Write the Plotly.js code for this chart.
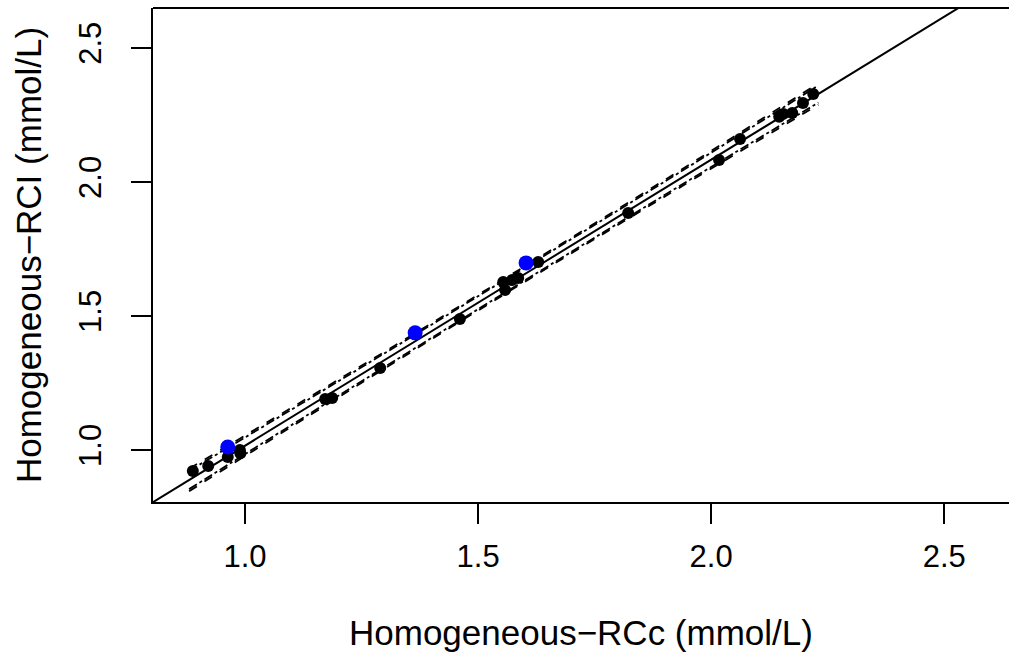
<!DOCTYPE html>
<html>
<head>
<meta charset="utf-8">
<script src="https://cdn.plot.ly/plotly-3.0.1.min.js"></script>
<style>html,body{margin:0;padding:0;background:#fff;}#chart{width:1009px;height:656px;}</style>
</head>
<body>
<div id="chart"></div>
<script>
// Data
const blackX = [0.888, 0.921, 0.963, 0.989, 0.990, 1.172, 1.187, 1.290, 1.461, 1.554, 1.558, 1.573, 1.586, 1.629, 1.822, 2.017, 2.062, 2.146, 2.155, 2.174, 2.197, 2.219];
const blackY = [0.922, 0.940, 0.974, 1.000, 0.988, 1.190, 1.194, 1.306, 1.489, 1.627, 1.597, 1.634, 1.642, 1.701, 1.884, 2.082, 2.160, 2.243, 2.254, 2.257, 2.295, 2.328];
const blueX = [0.963, 1.365, 1.603];
const blueY = [1.011, 1.437, 1.698];

const fitIntercept = -0.051;
const fitSlope = 1.067;

const bandX = [0.88, 1.20, 1.55, 1.90, 2.23];
const upperDash = [0.930, 1.262, 1.632, 2.007, 2.368];
const upperDotDash = [0.922, 1.256, 1.627, 2.001, 2.360];
const lowerDash = [0.846, 1.196, 1.574, 1.945, 2.288];
const lowerDotDash = [0.854, 1.202, 1.579, 1.951, 2.296];

const tickVals = [1.0, 1.5, 2.0, 2.5];
const tickText = ["1.0", "1.5", "2.0", "2.5"];

const xRange = [0.8026, 2.639];
const yRange = [0.806, 2.649];

const FONT = '"Liberation Sans", Arial, Helvetica, sans-serif';

const fitX = [xRange[0], xRange[1]];
const fitY = fitX.map(v => fitIntercept + fitSlope * v);

const traces = [
  {x: bandX, y: upperDash, mode: 'lines', line: {color: 'black', width: 1.8, dash: 'dash', shape: 'spline'}, hoverinfo: 'skip'},
  {x: bandX, y: upperDotDash, mode: 'lines', line: {color: 'black', width: 1.8, dash: 'dashdot', shape: 'spline'}, hoverinfo: 'skip'},
  {x: bandX, y: lowerDash, mode: 'lines', line: {color: 'black', width: 1.8, dash: 'dash', shape: 'spline'}, hoverinfo: 'skip'},
  {x: bandX, y: lowerDotDash, mode: 'lines', line: {color: 'black', width: 1.8, dash: 'dashdot', shape: 'spline'}, hoverinfo: 'skip'},
  {x: fitX, y: fitY, mode: 'lines', line: {color: 'black', width: 2}, hoverinfo: 'skip'},
  {x: blackX, y: blackY, mode: 'markers', marker: {color: 'black', size: 12}},
  {x: blueX, y: blueY, mode: 'markers', marker: {color: '#0000ff', size: 15}}
];

const layout = {
  width: 1009, height: 656,
  margin: {l: 153, r: 0, t: 8, b: 154, pad: 0},
  paper_bgcolor: 'white', plot_bgcolor: 'white',
  showlegend: false,
  font: {family: FONT, color: 'black'},
  xaxis: {
    range: xRange, showgrid: false, zeroline: false,
    showline: true, linecolor: 'black', linewidth: 2,
    ticks: 'outside', ticklen: 20, tickwidth: 1.5, tickcolor: 'black',
    tickvals: tickVals, ticktext: tickText,
    tickfont: {family: FONT, size: 31, color: 'black'},
    ticklabelstandoff: 6
  },
  yaxis: {
    range: yRange, showgrid: false, zeroline: false,
    showline: true, linecolor: 'black', linewidth: 2,
    ticks: 'outside', ticklen: 20, tickwidth: 1.5, tickcolor: 'black',
    tickvals: tickVals, ticktext: tickText, tickangle: -90,
    tickfont: {family: FONT, size: 31, color: 'black'},
    ticklabelstandoff: 18
  },
  shapes: [
    {type: 'line', xref: 'paper', yref: 'paper', x0: 0, x1: 1, y0: 1, y1: 1, line: {color: 'black', width: 2}}
  ],
  annotations: [
    {text: 'Homogeneous\u2212RCc (mmol/L)', xref: 'paper', yref: 'paper', x: 0.5, y: -0.264, xanchor: 'center', yanchor: 'middle', showarrow: false, font: {family: FONT, size: 35, color: 'black'}},
    {text: 'Homogeneous\u2212RCI (mmol/L)', xref: 'paper', yref: 'paper', x: -0.146, y: 0.5, xanchor: 'center', yanchor: 'middle', textangle: -90, showarrow: false, font: {family: FONT, size: 35, color: 'black'}}
  ]
};

Plotly.newPlot('chart', traces, layout, {displayModeBar: false, staticPlot: true});
</script>
</body>
</html>
